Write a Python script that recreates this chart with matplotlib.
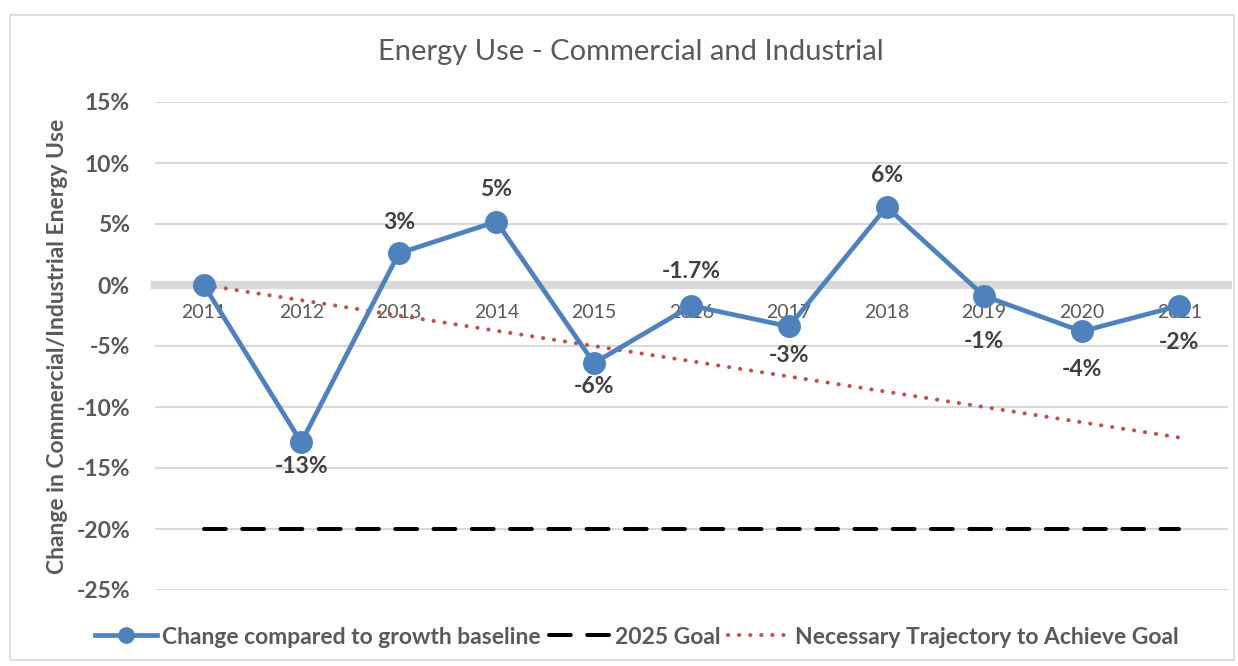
import matplotlib
matplotlib.use("Agg")
import matplotlib.pyplot as plt
from matplotlib.patches import Rectangle
from matplotlib.lines import Line2D

years = ["2011", "2012", "2013", "2014", "2015", "2016", "2017", "2018", "2019", "2020", "2021"]
change = [0.0, -12.9, 2.6, 5.2, -6.4, -1.7, -3.4, 6.4, -0.9, -3.8, -1.7]
goal = [-20, -20, -20, -20, -20, -20, -20, -20, -20, -20, -20]
trajectory = [0.0, -1.25, -2.5, -3.75, -5.0, -6.25, -7.5, -8.75, -10.0, -11.25, -12.5]
labels = ["", "-13%", "3%", "5%", "-6%", "-1.7%", "-3%", "6%", "-1%", "-4%", "-2%"]
yticks = [15, 10, 5, 0, -5, -10, -15, -20, -25]

# label vertical offsets in pixels (style, not data)
label_offsets_px = [0, -24, 31, 32, -23, 34, -29, 31, -46, -38, -37]

plt.rcParams['font.family'] = ['Lato', 'DejaVu Sans']

W, H = 1238, 666
fig = plt.figure(figsize=(W / 100, H / 100), dpi=100)
fig.patches.append(Rectangle((10 / W, 6 / H), 1224 / W, 645 / H, transform=fig.transFigure,
                             fill=False, edgecolor='#D9D9D9', linewidth=1.2))

ax = fig.add_axes([155 / W, 1 - 590 / H, (1228 - 155) / W, (590 - 102) / H])
x = list(range(len(years)))

ax.set_xlim(-0.5, len(years) - 0.5)
ax.set_ylim(-25, 15)
ax.set_yticks(yticks)
ax.set_yticklabels([f"{v}%" for v in yticks], fontsize=16.5, fontweight='bold', color='#595959')
ax.yaxis.grid(True, color='#D9D9D9', linewidth=1.5, zorder=0)
ax.set_axisbelow(True)
ax.tick_params(axis='y', length=0, pad=18)

for s in ['left', 'right', 'top']:
    ax.spines[s].set_visible(False)
ax.spines['bottom'].set_position(('data', 0))
ax.spines['bottom'].set_color('#D9D9D9')
ax.spines['bottom'].set_linewidth(6)
ax.spines['bottom'].set_zorder(1)
ax.set_xticks(x)
ax.set_xticklabels(years, fontsize=14, color='#595959')
ax.tick_params(axis='x', length=0, pad=14)

ax.plot(x, goal, color='black', linewidth=2.9, linestyle=(0, (5.4, 4.1)),
        dash_capstyle='round', zorder=3)
ax.plot(x, trajectory, color='#C0504D', linewidth=2.9, linestyle=(0, (0.05, 2.7)),
        dash_capstyle='round', zorder=4)
ax.plot(x, change, color='#4F81BD', linewidth=3.4, marker='o', markersize=15.5,
        markerfacecolor='#4F81BD', markeredgecolor='#4F81BD', zorder=5)

for xi, v, lab, off in zip(x, change, labels, label_offsets_px):
    if not lab:
        continue
    ax.annotate(lab, (xi, v), xytext=(0, off * 0.72), textcoords='offset points',
                ha='center', va='center', fontsize=16.5, fontweight='bold', color='#404040',
                zorder=6)

fig.text(631 / W, 1 - 52 / H, "Energy Use - Commercial and Industrial", ha='center', va='center',
         fontsize=21, color='#595959')
fig.text(58 / W, 1 - 346 / H, "Change in Commercial/Industrial Energy Use", rotation=90,
         ha='center', va='center', fontsize=16.5, fontweight='bold', color='#595959')

handles = [
    Line2D([], [], color='#4F81BD', linewidth=3.4, marker='o', markersize=11),
    Line2D([], [], color='black', linewidth=2.9, linestyle=(0, (5.4, 4.1)), dash_capstyle='round'),
    Line2D([], [], color='#C0504D', linewidth=2.9, linestyle=(0, (0.05, 2.7)), dash_capstyle='round'),
]
leg = fig.legend(handles, ["Change compared to growth baseline", "2025 Goal",
                           "Necessary Trajectory to Achieve Goal"],
                 loc='center', bbox_to_anchor=(637 / W, 1 - 637 / H), ncol=3, frameon=False,
                 prop={'size': 16.5, 'weight': 'bold'}, handlelength=2.7, handletextpad=0.2,
                 columnspacing=0.35, borderaxespad=0)
for t in leg.get_texts():
    t.set_color('#595959')

fig.savefig("out.png", dpi=100)
